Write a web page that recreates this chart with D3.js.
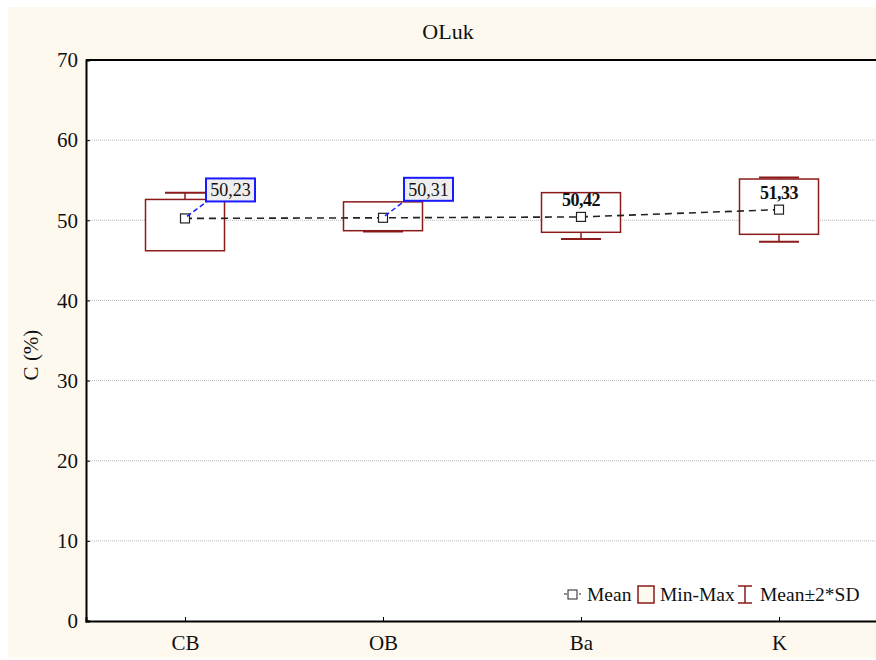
<!DOCTYPE html>
<html>
<head>
<meta charset="utf-8">
<script src="https://cdn.jsdelivr.net/npm/d3@7"></script>
<style>
  body { margin: 0; background: #fff; }
  text { font-family: "Liberation Serif", "Times New Roman", serif; fill: #111; }
</style>
</head>
<body>
<div id="chart"></div>
<script>
// chart data
var categories = ['CB', 'OB', 'Ba', 'K'];
var means = [50.23, 50.31, 50.42, 51.33];
var mins = [46.2, 48.7, 48.5, 48.25];
var maxs = [52.6, 52.3, 53.45, 55.15];
var twoSD = [3.2, 1.71, 2.75, 4.0];
var meanLabels = ['50,23', '50,31', '50,42', '51,33'];
var boxedLabel = [true, true, false, false];
var yTicks = [0, 10, 20, 30, 40, 50, 60, 70];

var svgWidth = 876, svgHeight = 660;
var margin = { top: 60, right: -2, bottom: 39, left: 86 };
var width = svgWidth - margin.left - margin.right;
var height = svgHeight - margin.top - margin.bottom;

var svg = d3.select('#chart').append('svg')
	.attr('width', svgWidth).attr('height', svgHeight);

// cream background
svg.append('rect').attr('x', 8).attr('y', 7)
	.attr('width', svgWidth - 8).attr('height', 651)
	.attr('fill', '#fef9ef');

var g = svg.append('g').attr('transform', `translate(${margin.left}, ${margin.top})`);

g.append('rect').attr('width', width).attr('height', height).attr('fill', '#fff');

var x = d3.scalePoint().domain(categories).range([0, width]).padding(0.5);
var y = d3.scaleLinear().domain([0, 70]).range([height, 0]);

// gridlines
g.selectAll('.grid').data(yTicks.filter(d => d > 0 && d < 70)).enter()
	.append('line')
	.attr('x1', 0).attr('x2', width)
	.attr('y1', d => y(d)).attr('y2', d => y(d))
	.attr('stroke', '#aaa').attr('stroke-width', 0.8)
	.attr('stroke-dasharray', '1,1');

// axes
var yAxis = g.append('g').call(d3.axisLeft(y).tickValues(yTicks).tickSize(-4).tickPadding(8));
var xAxis = g.append('g').attr('transform', `translate(0, ${height})`)
	.call(d3.axisBottom(x).tickSize(-4).tickPadding(14));
[yAxis, xAxis].forEach(function(a) {
	a.select('.domain').attr('stroke', '#000').attr('stroke-width', 2);
	a.selectAll('.tick line').attr('stroke', '#000');
	a.selectAll('.tick text').attr('font-size', '21px').attr('fill', '#111')
		.attr('font-family', '"Liberation Serif", serif');
});
// top border
g.append('line').attr('x1', 0).attr('x2', width).attr('y1', 0).attr('y2', 0)
	.attr('stroke', '#000').attr('stroke-width', 2);

var boxColor = '#8b1a1a';
var capW = 40, boxW = 79;

// whiskers (mean ± 2*SD)
categories.forEach(function(c, i) {
	var cx = x(c);
	var lo = means[i] - twoSD[i], hi = means[i] + twoSD[i];
	g.append('line').attr('x1', cx).attr('x2', cx).attr('y1', y(lo)).attr('y2', y(hi))
		.attr('stroke', boxColor).attr('stroke-width', 1.5);
	[lo, hi].forEach(function(v) {
		g.append('line').attr('x1', cx - capW / 2).attr('x2', cx + capW / 2)
			.attr('y1', y(v)).attr('y2', y(v))
			.attr('stroke', boxColor).attr('stroke-width', 2);
	});
});

// min-max boxes
g.selectAll('.box').data(categories).enter().append('rect')
	.attr('x', d => x(d) - boxW / 2)
	.attr('y', (d, i) => y(maxs[i]))
	.attr('width', boxW)
	.attr('height', (d, i) => y(mins[i]) - y(maxs[i]))
	.attr('fill', '#fff').attr('stroke', boxColor).attr('stroke-width', 1.5);

// mean line
var line = d3.line().x((d, i) => x(categories[i])).y(d => y(d));
g.append('path').datum(means).attr('d', line)
	.attr('fill', 'none').attr('stroke', '#222').attr('stroke-width', 1.6)
	.attr('stroke-dasharray', '7,5');

// mean markers
g.selectAll('.mean').data(means).enter().append('rect')
	.attr('x', (d, i) => x(categories[i]) - 4.5)
	.attr('y', d => y(d) - 4.5)
	.attr('width', 9).attr('height', 9)
	.attr('fill', '#fff').attr('stroke', '#222').attr('stroke-width', 1.2);

// labels
categories.forEach(function(c, i) {
	var cx = x(c), cy = y(means[i]);
	if (boxedLabel[i]) {
		var bx = cx + 21, by = cy - 40;
		g.append('line').attr('x1', cx + 2).attr('y1', cy - 2)
			.attr('x2', bx + 1).attr('y2', by + 23)
			.attr('stroke', '#1a1aff').attr('stroke-width', 1.5)
			.attr('stroke-dasharray', '5,3');
		g.append('rect').attr('x', bx).attr('y', by).attr('width', 49).attr('height', 23)
			.attr('fill', '#eeeeee').attr('stroke', '#1a1aff').attr('stroke-width', 2);
		g.append('text').attr('x', bx + 24.5).attr('y', by + 18)
			.attr('text-anchor', 'middle').attr('font-size', '18px')
			.text(meanLabels[i]);
	} else {
		g.append('text').attr('x', cx).attr('y', cy - 11)
			.attr('text-anchor', 'middle').attr('font-size', '18px')
			.attr('font-weight', 'bold').attr('letter-spacing', '-0.5px')
			.text(meanLabels[i]);
	}
});

// title and y label
svg.append('text').attr('x', 448).attr('y', 39).attr('text-anchor', 'middle')
	.attr('font-size', '22px').text('OLuk');
svg.append('text').attr('transform', 'translate(38, 355) rotate(-90)')
	.attr('text-anchor', 'middle').attr('font-size', '21px').text('C (%)');

// legend
var lg = svg.append('g').attr('transform', 'translate(0, 594)');
lg.append('line').attr('x1', 564).attr('x2', 581).attr('y1', 0).attr('y2', 0)
	.attr('stroke', '#222').attr('stroke-width', 1.2).attr('stroke-dasharray', '3,2');
lg.append('rect').attr('x', 568).attr('y', -4).attr('width', 9).attr('height', 9)
	.attr('fill', '#fff').attr('stroke', '#222');
lg.append('text').attr('x', 587).attr('y', 7).attr('font-size', '19.5px').text('Mean');
lg.append('rect').attr('x', 638).attr('y', -8).attr('width', 16).attr('height', 17)
	.attr('fill', '#fef9ef').attr('stroke', boxColor).attr('stroke-width', 1.5);
lg.append('text').attr('x', 660).attr('y', 7).attr('font-size', '19.5px').text('Min-Max');
lg.append('line').attr('x1', 745).attr('x2', 745).attr('y1', -8).attr('y2', 9)
	.attr('stroke', boxColor).attr('stroke-width', 1.5);
lg.append('line').attr('x1', 738).attr('x2', 752).attr('y1', -8).attr('y2', -8)
	.attr('stroke', boxColor).attr('stroke-width', 1.5);
lg.append('line').attr('x1', 738).attr('x2', 752).attr('y1', 9).attr('y2', 9)
	.attr('stroke', boxColor).attr('stroke-width', 1.5);
lg.append('text').attr('x', 760).attr('y', 7).attr('font-size', '19.5px').text('Mean±2*SD');
</script>
</body>
</html>
